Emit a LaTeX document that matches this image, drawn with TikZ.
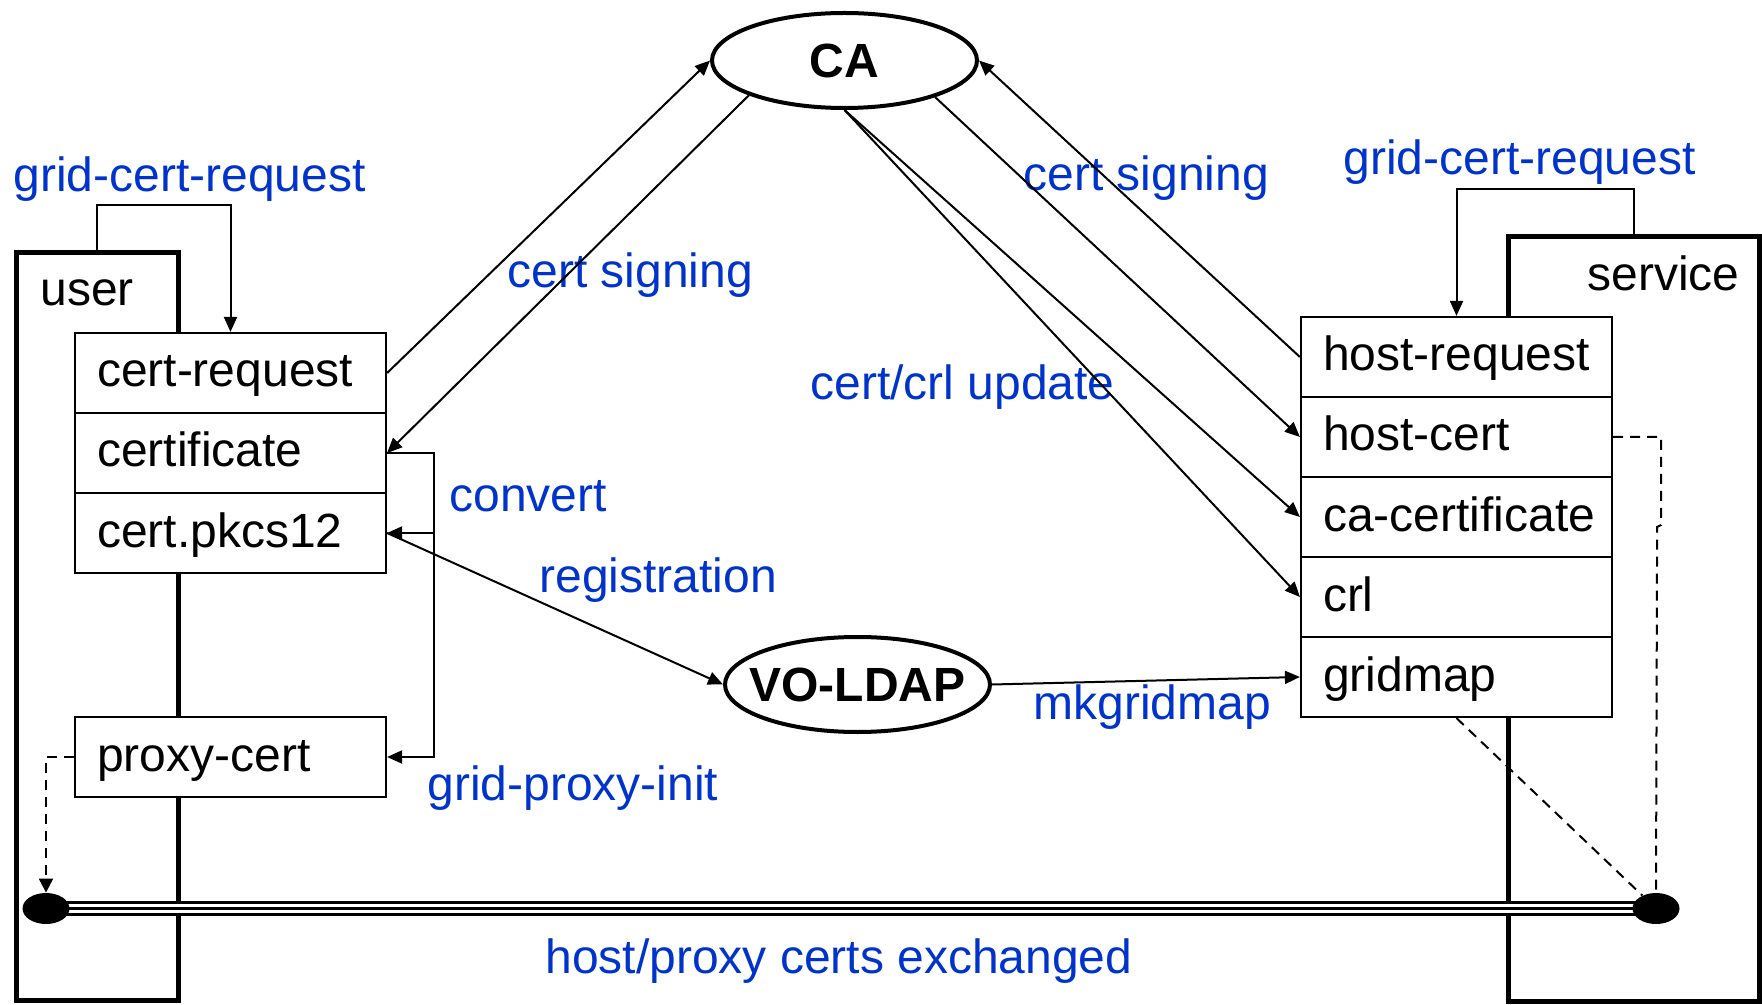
\documentclass[tikz,border=0pt]{standalone}
\usepackage{fontspec}
\setmainfont{Liberation Sans}
\usetikzlibrary{arrows.meta,shapes.geometric,calc}
\definecolor{lblue}{RGB}{0,51,204}
\newcommand\slottext[1]{\makebox[133.5pt][l]{#1}}
\newcommand\centertext[1]{\makebox[0pt][c]{#1}}

\begin{document}
\begin{tikzpicture}[x=0.5pt,y=-0.5pt,
  font=\fontsize{24}{28}\selectfont,
  conn/.style={line width=1pt, -{Triangle[length=7.5pt,width=6.5pt]}},
  dashconn/.style={line width=1pt, dash pattern=on 5pt off 3.5pt},
  slot/.style={draw, fill=white, line width=1.1pt, minimum height=40pt,
    inner xsep=11pt, inner ysep=0pt, text height=18pt, text depth=4pt},
  party/.style={draw, line width=2.5pt, rectangle, inner sep=0pt},
  authority/.style={ellipse, draw, line width=2pt, minimum width=132.5pt,
    minimum height=47.5pt, inner sep=0pt, font=\fontsize{24}{28}\selectfont\bfseries},
  endpoint/.style={ellipse, fill=black, minimum width=23.5pt,
    minimum height=15.5pt, inner sep=0pt},
  lbl/.style={text=lblue, anchor=base west, inner sep=0pt},
  tag/.style={anchor=base west, inner sep=0pt}
]
\useasboundingbox (0,0) rectangle (1762,1005);

% the two parties
\node[party, minimum width=81pt, minimum height=373.5pt] (user) at (97,626.5) {};
\node[party, minimum width=125.5pt, minimum height=382pt] (service) at (1633.5,619) {};
\node[tag] (userlbl) at (40,306) {user};
\node[tag] (servicelbl) at (1587,291) {service};

% secure channel between the two end points
\coordinate (pL) at (46,908.5);
\coordinate (pR) at (1656,908.5);
\draw[line width=7.85pt] (pL) -- (pR);
\draw[white, line width=4.75pt] (pL) -- (pR);
\draw[line width=1.6pt] (pL) -- (pR);
\node[endpoint] (eL) at (pL) {};
\node[endpoint] (eR) at (pR) {};

% authorities
\node[authority] (CA) at (844.5,60.5) {\centertext{CA}};
\node[authority] (VO) at (857.5,684.5) {\centertext{VO-LDAP}};

% user side credentials
\node[slot] (creq)  at (230.5,373) {\slottext{cert-request}};
\node[slot] (cert)  at (230.5,453) {\slottext{certificate}};
\node[slot] (pkcs)  at (230.5,533) {\slottext{cert.pkcs12}};
\node[slot] (proxy) at (230.5,757) {\slottext{proxy-cert}};

% service side credentials
\node[slot] (hreq)   at (1456.5,357) {\slottext{host-request}};
\node[slot] (hcert)  at (1456.5,437) {\slottext{host-cert}};
\node[slot] (cacert) at (1456.5,517) {\slottext{ca-certificate}};
\node[slot] (crl)    at (1456.5,597) {\slottext{crl}};
\node[slot] (gmap)   at (1456.5,677) {\slottext{gridmap}};

% operation labels
\node[lbl] (l1)  at (13,192)   {grid-cert-request};
\node[lbl] (l2)  at (1343,175) {grid-cert-request};
\node[lbl] (l3)  at (507,288)  {cert signing};
\node[lbl] (l4)  at (1023,191) {cert signing};
\node[lbl] (l5)  at (810,400)  {cert/crl update};
\node[lbl] (l6)  at (449,511)  {convert};
\node[lbl] (l7)  at (539,592)  {registration};
\node[lbl] (l8)  at (427,800)  {grid-proxy-init};
\node[lbl] (l9)  at (1033,719) {mkgridmap};
\node[lbl] (l10) at (545,973)  {host/proxy certs exchanged};

% signing and distribution
\draw[conn] (creq.east) -- (CA.west);
\draw[conn] (CA.200) -- (cert.east);
\draw[conn] (hreq.west) -- (CA.east);
\draw[conn] (CA.-22) -- (hcert.west);
\draw[conn] (CA.south) -- (cacert.west);
\draw[conn] (CA.south) -- (crl.west);
\draw[conn] (pkcs.east) -- (VO.west);
\draw[conn] (VO.east) -- (gmap.west);

% request generation
\draw[conn] (user.north) |- ([yshift=63.5pt]creq.north) -- (creq.north);
\draw[conn] (service.north) |- ([yshift=63.5pt]hreq.north) -- (hreq.north);

% conversion and proxy creation
\coordinate (cv) at ([xshift=23.5pt]cert.east);
\draw[conn] (cert.east) -- (cv) |- (proxy.east);
\draw[conn] (cv |- pkcs.east) -- (pkcs.east);

% credentials used on the channel
\draw[dashconn, -{Triangle[length=7pt,width=7pt]}] (proxy.west) -| (eL.north);
\draw[dashconn] (hcert.east) -- ++(24pt,0) -- ++(0,-44pt) -- ++(-2pt,-1pt) -- (eR.north);
\draw[dashconn] (gmap.south) -- (eR);
\end{tikzpicture}
\end{document}
